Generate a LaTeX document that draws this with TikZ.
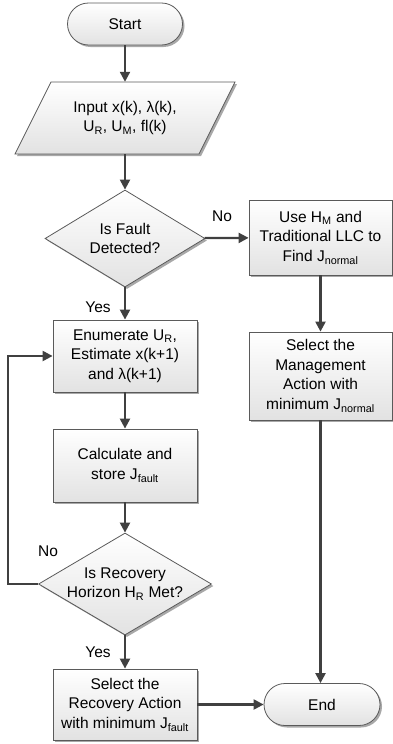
\documentclass[tikz,border=0pt]{standalone}
\usepackage{fontspec}
\setmainfont{Liberation Sans}
\usetikzlibrary{shapes.geometric,arrows.meta,shadows}
\definecolor{linec}{HTML}{404040}
\definecolor{bordc}{HTML}{5A5A5A}
\definecolor{fillb}{HTML}{E2E2E2}
\definecolor{shad}{HTML}{A8A8A8}
\begin{document}
\begin{tikzpicture}[x=1pt,y=-1pt,
  txtfont/.style={font=\fontsize{15.5}{19.5}\selectfont},
  base/.style={draw=bordc, line width=0.8pt, top color=white, bottom color=fillb,
    drop shadow={shadow xshift=2pt, shadow yshift=-2pt, fill=shad, opacity=1},
    txtfont, align=center, inner sep=0pt, text=black},
  proc/.style={base, rectangle, minimum width=144pt, minimum height=72pt},
  term/.style={base, rectangle, rounded corners=21pt, minimum width=115pt, minimum height=42pt},
  decis/.style={base, diamond, aspect=1.68},
  plaintxt/.style={txtfont, align=center, inner sep=0pt, minimum width=148pt, minimum height=72pt},
  lbl/.style={txtfont, inner sep=0pt},
  conn/.style={draw=linec, line width=2.2pt, -{Triangle[length=10pt,width=10pt]}},
  connplain/.style={draw=linec, line width=2.2pt}
]
\useasboundingbox (0,0) rectangle (393,744);

% Start
\node[term] (start) at (125,24) {Start};

% Input parallelogram
\path[base] (15,154) -- (51,82) -- (235,82) -- (199,154) -- cycle;
\node[plaintxt] (input) at (125,118) {Input x(k), λ(k),\\U\textsubscript{R}, U\textsubscript{M}, fl(k)};

% Decision 1
\node[decis, minimum width=160pt, minimum height=97pt] (d1) at (125,238.5) {Is Fault\\Detected?};

% Right branch
\node[proc, minimum width=143pt, minimum height=75pt] (use) at (320.5,237.5)
  {Use H\textsubscript{M} and\\Traditional LLC to\\Find J\textsubscript{normal}};
\node[proc, minimum width=143pt, minimum height=88pt] (mgmt) at (320.5,376)
  {Select the\\Management\\Action with\\minimum J\textsubscript{normal}};

% Left branch
\node[proc] (enum) at (125,356) {Enumerate U\textsubscript{R},\\Estimate x(k+1)\\and λ(k+1)};
\node[proc, minimum height=73pt] (calc) at (125,465.5) {Calculate and\\store J\textsubscript{fault}};
\node[decis, minimum width=173pt, minimum height=102pt] (d2) at (125,584) {Is Recovery\\Horizon H\textsubscript{R} Met?};
\node[proc, minimum height=71pt] (sel) at (125,704.5) {Select the\\Recovery Action\\with minimum J\textsubscript{fault}};

% End
\node[term, minimum width=116pt] (end) at (322,704.5) {End};

% Labels
\node[lbl] (no1) at (222,216) {No};
\node[lbl] (yes1) at (98,307) {Yes};
\node[lbl] (no2) at (48,551) {No};
\node[lbl] (yes2) at (98,652) {Yes};

% Connectors
\draw[conn] (start) -- (input);
\draw[conn] (input) -- (d1);
\draw[conn] (d1) -- (use);
\draw[conn] (d1) -- (enum);
\draw[conn] (use) -- (mgmt);
\draw[conn] (mgmt.south) -- (mgmt.south |- end.north);
\draw[conn] (enum) -- (calc);
\draw[conn] (calc) -- (d2);
\draw[conn] (d2) -- (sel);
\draw[conn] (sel) -- (end);
\coordinate (loopc) at (8,584);
\draw[conn] (d2.west) -- (loopc) |- (enum.west);
\end{tikzpicture}
\end{document}
